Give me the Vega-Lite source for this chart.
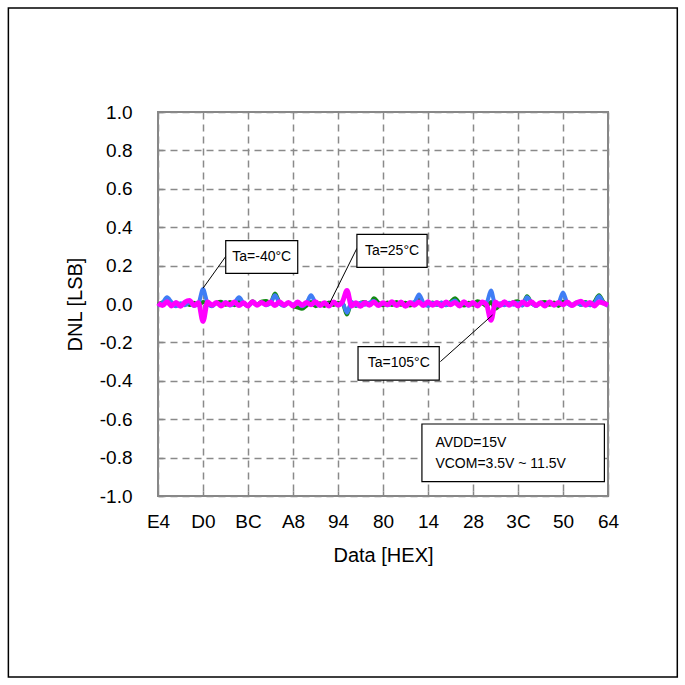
{
  "$schema": "https://vega.github.io/schema/vega-lite/v6.json",
  "width": 450,
  "height": 384,
  "autosize": "none",
  "padding": {"left": 158, "top": 112, "right": 77, "bottom": 189},
  "background": "white",
  "config": {
    "view": {"stroke": "#878787", "strokeWidth": 2},
    "font": "Liberation Sans"
  },
  "datasets": {
    "blue": [
      {"x":-100,"y":-0.008},{"x":-98,"y":0.005},{"x":-96,"y":0.035},{"x":-94,"y":0.010},{"x":-92,"y":-0.012},{"x":-90,"y":0.004},{"x":-88,"y":-0.006},{"x":-86,"y":0.008},{"x":-84,"y":-0.010},{"x":-82,"y":0.004},
      {"x":-80,"y":0.078},{"x":-78,"y":0.006},{"x":-76,"y":-0.012},{"x":-74,"y":0.005},{"x":-72,"y":-0.004},{"x":-70,"y":0.009},{"x":-68,"y":-0.008},{"x":-66,"y":0.006},{"x":-64,"y":0.035},{"x":-62,"y":0.004},
      {"x":-60,"y":-0.010},{"x":-58,"y":0.006},{"x":-56,"y":-0.005},{"x":-54,"y":0.008},{"x":-52,"y":-0.006},{"x":-50,"y":0.004},{"x":-48,"y":0.045},{"x":-46,"y":0.003},{"x":-44,"y":-0.010},{"x":-42,"y":0.006},
      {"x":-40,"y":-0.004},{"x":-38,"y":0.007},{"x":-36,"y":-0.012},{"x":-34,"y":0.005},{"x":-32,"y":0.045},{"x":-30,"y":0.006},{"x":-28,"y":-0.008},{"x":-26,"y":0.005},{"x":-24,"y":-0.004},{"x":-22,"y":0.008},
      {"x":-20,"y":-0.006},{"x":-18,"y":0.004},{"x":-16,"y":-0.045},{"x":-14,"y":0.010},{"x":-12,"y":-0.008},{"x":-10,"y":0.006},{"x":-8,"y":-0.004},{"x":-6,"y":0.007},{"x":-4,"y":0.015},{"x":-2,"y":-0.006},
      {"x":0,"y":0.004},{"x":2,"y":-0.007},{"x":4,"y":0.006},{"x":6,"y":-0.004},{"x":8,"y":0.008},{"x":10,"y":-0.010},{"x":12,"y":0.004},{"x":14,"y":0.010},{"x":16,"y":0.050},{"x":18,"y":0.006},
      {"x":20,"y":-0.010},{"x":22,"y":0.005},{"x":24,"y":-0.004},{"x":26,"y":0.008},{"x":28,"y":-0.006},{"x":30,"y":0.005},{"x":32,"y":0.018},{"x":34,"y":-0.005},{"x":36,"y":0.006},{"x":38,"y":-0.008},
      {"x":40,"y":0.005},{"x":42,"y":-0.004},{"x":44,"y":0.007},{"x":46,"y":0.008},{"x":48,"y":0.070},{"x":50,"y":-0.010},{"x":52,"y":0.004},{"x":54,"y":-0.006},{"x":56,"y":0.007},{"x":58,"y":-0.004},
      {"x":60,"y":0.006},{"x":62,"y":-0.008},{"x":64,"y":0.035},{"x":66,"y":0.005},{"x":68,"y":-0.010},{"x":70,"y":0.006},{"x":72,"y":-0.004},{"x":74,"y":0.007},{"x":76,"y":-0.006},{"x":78,"y":0.004},
      {"x":80,"y":0.060},{"x":82,"y":0.004},{"x":84,"y":-0.008},{"x":86,"y":0.006},{"x":88,"y":-0.004},{"x":90,"y":0.008},{"x":92,"y":-0.006},{"x":94,"y":0.005},{"x":96,"y":0.040},{"x":98,"y":0.006},
      {"x":100,"y":-0.008}
    ],
    "green": [
      {"x":-100,"y":-0.004},{"x":-98,"y":0.008},{"x":-96,"y":0.012},{"x":-94,"y":-0.006},{"x":-92,"y":0.006},{"x":-90,"y":-0.008},{"x":-88,"y":0.004},{"x":-86,"y":-0.005},{"x":-84,"y":0.007},{"x":-82,"y":-0.006},
      {"x":-80,"y":0.010},{"x":-78,"y":0.004},{"x":-76,"y":-0.007},{"x":-74,"y":0.006},{"x":-72,"y":0.012},{"x":-70,"y":-0.004},{"x":-68,"y":0.010},{"x":-66,"y":-0.006},{"x":-64,"y":0.012},{"x":-62,"y":0.006},
      {"x":-60,"y":-0.008},{"x":-58,"y":0.014},{"x":-56,"y":-0.004},{"x":-54,"y":0.012},{"x":-52,"y":0.016},{"x":-50,"y":0.006},{"x":-48,"y":0.055},{"x":-46,"y":0.008},{"x":-44,"y":-0.006},{"x":-42,"y":0.006},
      {"x":-40,"y":-0.010},{"x":-38,"y":-0.018},{"x":-36,"y":-0.025},{"x":-34,"y":-0.008},{"x":-32,"y":0.010},{"x":-30,"y":-0.012},{"x":-28,"y":0.004},{"x":-26,"y":-0.010},{"x":-24,"y":0.008},{"x":-22,"y":-0.005},
      {"x":-20,"y":0.006},{"x":-18,"y":0.004},{"x":-16,"y":-0.055},{"x":-14,"y":0.008},{"x":-12,"y":-0.010},{"x":-10,"y":0.006},{"x":-8,"y":0.010},{"x":-6,"y":-0.004},{"x":-4,"y":0.030},{"x":-2,"y":0.006},
      {"x":0,"y":-0.006},{"x":2,"y":0.008},{"x":4,"y":-0.005},{"x":6,"y":0.010},{"x":8,"y":-0.004},{"x":10,"y":0.006},{"x":12,"y":-0.008},{"x":14,"y":0.008},{"x":16,"y":0.030},{"x":18,"y":0.004},
      {"x":20,"y":-0.006},{"x":22,"y":0.008},{"x":24,"y":-0.004},{"x":26,"y":0.006},{"x":28,"y":-0.006},{"x":30,"y":0.010},{"x":32,"y":0.030},{"x":34,"y":0.004},{"x":36,"y":-0.008},{"x":38,"y":0.006},
      {"x":40,"y":-0.004},{"x":42,"y":0.014},{"x":44,"y":0.006},{"x":46,"y":-0.010},{"x":48,"y":0.010},{"x":50,"y":-0.025},{"x":52,"y":-0.006},{"x":54,"y":0.008},{"x":56,"y":-0.004},{"x":58,"y":0.010},
      {"x":60,"y":0.014},{"x":62,"y":-0.006},{"x":64,"y":0.040},{"x":66,"y":0.006},{"x":68,"y":-0.008},{"x":70,"y":0.006},{"x":72,"y":0.010},{"x":74,"y":-0.004},{"x":76,"y":0.008},{"x":78,"y":-0.010},
      {"x":80,"y":0.012},{"x":82,"y":0.006},{"x":84,"y":-0.006},{"x":86,"y":0.008},{"x":88,"y":-0.004},{"x":90,"y":0.010},{"x":92,"y":-0.006},{"x":94,"y":0.012},{"x":96,"y":0.045},{"x":98,"y":0.010},
      {"x":100,"y":-0.004}
    ],
    "magenta": [
      {"x":-100,"y":0.005},{"x":-98,"y":-0.008},{"x":-96,"y":0.012},{"x":-94,"y":-0.010},{"x":-92,"y":0.008},{"x":-90,"y":-0.012},{"x":-88,"y":0.010},{"x":-86,"y":0.018},{"x":-84,"y":-0.008},{"x":-82,"y":0.006},
      {"x":-80,"y":-0.090},{"x":-78,"y":0.010},{"x":-76,"y":-0.006},{"x":-74,"y":0.008},{"x":-72,"y":-0.010},{"x":-70,"y":0.006},{"x":-68,"y":-0.004},{"x":-66,"y":0.010},{"x":-64,"y":-0.008},{"x":-62,"y":0.006},
      {"x":-60,"y":-0.010},{"x":-58,"y":0.012},{"x":-56,"y":-0.006},{"x":-54,"y":0.008},{"x":-52,"y":-0.004},{"x":-50,"y":0.010},{"x":-48,"y":-0.008},{"x":-46,"y":0.012},{"x":-44,"y":-0.006},{"x":-42,"y":0.008},
      {"x":-40,"y":-0.010},{"x":-38,"y":0.010},{"x":-36,"y":-0.006},{"x":-34,"y":0.008},{"x":-32,"y":-0.004},{"x":-30,"y":0.012},{"x":-28,"y":-0.008},{"x":-26,"y":0.006},{"x":-24,"y":-0.010},{"x":-22,"y":0.010},
      {"x":-20,"y":-0.006},{"x":-18,"y":0.012},{"x":-16,"y":0.070},{"x":-14,"y":-0.010},{"x":-12,"y":0.006},{"x":-10,"y":-0.012},{"x":-8,"y":0.008},{"x":-6,"y":-0.006},{"x":-4,"y":0.010},{"x":-2,"y":-0.008},
      {"x":0,"y":0.006},{"x":2,"y":-0.004},{"x":4,"y":0.012},{"x":6,"y":-0.008},{"x":8,"y":0.010},{"x":10,"y":-0.012},{"x":12,"y":0.008},{"x":14,"y":-0.006},{"x":16,"y":0.010},{"x":18,"y":-0.008},
      {"x":20,"y":0.012},{"x":22,"y":-0.006},{"x":24,"y":0.008},{"x":26,"y":-0.010},{"x":28,"y":0.010},{"x":30,"y":-0.004},{"x":32,"y":0.008},{"x":34,"y":-0.010},{"x":36,"y":0.012},{"x":38,"y":-0.006},
      {"x":40,"y":0.008},{"x":42,"y":-0.010},{"x":44,"y":0.010},{"x":46,"y":-0.004},{"x":48,"y":-0.085},{"x":50,"y":0.010},{"x":52,"y":-0.008},{"x":54,"y":0.012},{"x":56,"y":-0.006},{"x":58,"y":0.008},
      {"x":60,"y":-0.010},{"x":62,"y":0.010},{"x":64,"y":-0.004},{"x":66,"y":0.012},{"x":68,"y":-0.008},{"x":70,"y":0.006},{"x":72,"y":-0.010},{"x":74,"y":0.010},{"x":76,"y":-0.006},{"x":78,"y":0.008},
      {"x":80,"y":-0.004},{"x":82,"y":0.010},{"x":84,"y":-0.008},{"x":86,"y":0.006},{"x":88,"y":0.014},{"x":90,"y":-0.006},{"x":92,"y":0.008},{"x":94,"y":-0.010},{"x":96,"y":0.010},{"x":98,"y":0.004},
      {"x":100,"y":-0.006}
    ],
    "frame": [{"x": -166.5, "xe": 130.8, "y": 1.542, "ye": -1.943}],
    "boxes": [
      {"x": -69.9, "xe": -37.9, "y": 0.33, "ye": 0.16},
      {"x": -11.6, "xe": 19.6, "y": 0.363, "ye": 0.191},
      {"x": -11.1, "xe": 25.0, "y": -0.222, "ye": -0.396},
      {"x": 17.3, "xe": 98.4, "y": -0.625, "ye": -0.925}
    ],
    "leaders": [
      {"x": -68.9, "y": 0.264, "xe": -80, "ye": 0.082},
      {"x": -11.6, "y": 0.29, "xe": -23.9, "ye": 0.0},
      {"x": 25.5, "y": -0.30, "xe": 48.7, "ye": -0.057}
    ],
    "labels": [
      {"x": -53.9, "y": 0.246, "label": "Ta=-40°C"},
      {"x": 4.0, "y": 0.277, "label": "Ta=25°C"},
      {"x": 7.0, "y": -0.309, "label": "Ta=105°C"}
    ],
    "notes": [
      {"x": 23.3, "y": -0.726, "label": "AVDD=15V"},
      {"x": 23.3, "y": -0.835, "label": "VCOM=3.5V ~ 11.5V"}
    ]
  },
  "encoding": {
    "x": {
      "field": "x", "type": "quantitative",
      "scale": {"domain": [-100, 100], "nice": false, "zero": false},
      "axis": {
        "title": "Data [HEX]",
        "values": [-100, -80, -60, -40, -20, 0, 20, 40, 60, 80, 100],
        "labelExpr": "['E4','D0','BC','A8','94','80','14','28','3C','50','64'][round((datum.value + 100) / 20)]",
        "grid": true, "gridDash": [7, 5], "gridColor": "#8a8a8a", "gridWidth": 1.5,
        "domain": false,
        "ticks": true, "tickSize": -5, "tickColor": "#878787", "tickWidth": 1.5,
        "labelFont": "Liberation Sans", "labelFontSize": 19, "labelColor": "black", "labelPadding": 21,
        "labelFlush": false,
        "titleFont": "Liberation Sans", "titleFontSize": 20, "titleFontWeight": "normal", "titleColor": "black", "titlePadding": 14
      }
    },
    "y": {
      "field": "y", "type": "quantitative",
      "scale": {"domain": [-1, 1], "nice": false, "zero": false},
      "axis": {
        "title": "DNL [LSB]",
        "values": [-1, -0.8, -0.6, -0.4, -0.2, 0, 0.2, 0.4, 0.6, 0.8, 1],
        "labelExpr": "datum.value < -0.01 ? '-' + format(-datum.value, '.1f') : format(abs(datum.value), '.1f')",
        "grid": true, "gridDash": [7, 5], "gridColor": "#8a8a8a", "gridWidth": 1.5,
        "domain": false,
        "ticks": true, "tickSize": -5, "tickColor": "#878787", "tickWidth": 1.5,
        "labelFont": "Liberation Sans", "labelFontSize": 19, "labelColor": "black", "labelPadding": 31,
        "labelFlush": false,
        "titleFont": "Liberation Sans", "titleFontSize": 20, "titleFontWeight": "normal", "titleColor": "black", "titlePadding": 14
      }
    }
  },
  "layer": [
    {
      "data": {"name": "frame"},
      "mark": {"type": "rect", "fill": null, "stroke": "black", "strokeWidth": 1.5},
      "encoding": {"x2": {"field": "xe"}, "y2": {"field": "ye"}}
    },
    {
      "data": {"name": "green"},
      "mark": {"type": "line", "color": "#128a12", "strokeWidth": 4, "interpolate": "monotone"},
      "encoding": {}
    },
    {
      "data": {"name": "blue"},
      "mark": {"type": "line", "color": "#3f7df5", "strokeWidth": 4, "interpolate": "monotone"},
      "encoding": {}
    },
    {
      "data": {"name": "magenta"},
      "mark": {"type": "line", "color": "#ff00ff", "strokeWidth": 5, "interpolate": "monotone"},
      "encoding": {}
    },
    {
      "data": {"name": "leaders"},
      "mark": {"type": "rule", "color": "black", "strokeWidth": 1},
      "encoding": {"x2": {"field": "xe"}, "y2": {"field": "ye"}}
    },
    {
      "data": {"name": "boxes"},
      "mark": {"type": "rect", "fill": "white", "stroke": "black", "strokeWidth": 1.2},
      "encoding": {"x2": {"field": "xe"}, "y2": {"field": "ye"}}
    },
    {
      "data": {"name": "labels"},
      "mark": {"type": "text", "font": "Liberation Sans", "fontSize": 14, "color": "black", "align": "center", "baseline": "middle"},
      "encoding": {"text": {"field": "label"}}
    },
    {
      "data": {"name": "notes"},
      "mark": {"type": "text", "font": "Liberation Sans", "fontSize": 14, "color": "black", "align": "left", "baseline": "middle"},
      "encoding": {"text": {"field": "label"}}
    }
  ]
}
